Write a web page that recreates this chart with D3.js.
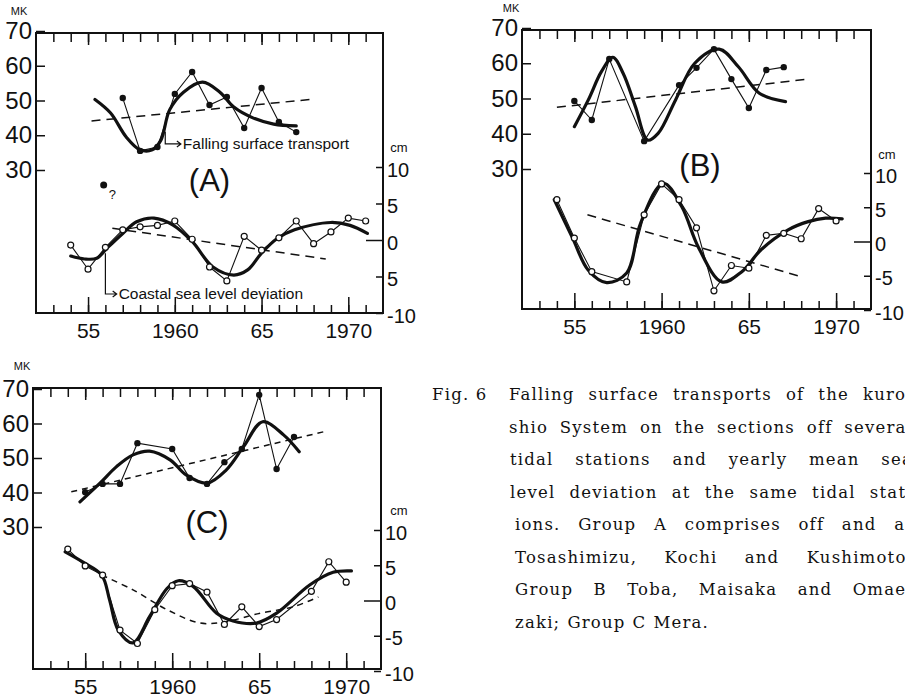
<!DOCTYPE html>
<html><head><meta charset="utf-8">
<script src="https://cdn.jsdelivr.net/npm/d3@7"></script>
<style>
html,body{margin:0;padding:0;background:#fff;overflow:hidden}
svg{display:block;background:#fff}
</style></head><body>
<svg id="c" width="905" height="698"></svg>
<script>
// ---------- shared tick data ----------
const minorYears = [1953,1954,1955,1956,1957,1958,1959,1960,1961,1962,1963,1964,1965,1966,1967,1968,1969,1970,1971];
const majorYears = [1955,1960,1965,1970];
const yearLabels = ["55","1960","65","1970"];
const mkTicks = [70,60,50,40,30];
const cmTicks = [10,5,0,-5,-10];
const cmLabelsA = ["10","5","0","5","-10"];
const cmLabels = ["10","5","0","-5","-10"];

// ---------- Panel A ----------
const aMkYears = [1957,1958,1959,1960,1961,1962,1963,1964,1965,1966,1967];
const aMk = [50.7,35.5,36.6,51.9,58.2,48.7,51,42.1,53.6,43.8,40.9];
const aMkFitYears = [1955.4,1956.3,1957.2,1958.0,1958.7,1959.2,1959.7,1960.5,1961.6,1962.6,1963.4,1964.5,1965.7,1967.0];
const aMkFit = [50.3,46.4,39.5,35.8,35.8,38.6,47.3,52.4,55.3,52.4,48.1,45,43.2,42.7];
const aMkTrendYears = [1955.2,1968.0];
const aMkTrend = [44.1,50.4];
const aOddYears = [1955.9];
const aOdd = [25.7];
const aSeaYears = [1954,1955,1956,1957,1958,1959,1960,1961,1962,1963,1964,1965,1966,1967,1968,1969,1970,1971];
const aSea = [-0.7,-4,-1,1.4,1.8,2,2.6,0.1,-3.7,-5.6,0.5,-1.4,0.3,2.6,-0.5,1.1,3,2.6];
const aSeaFitYears = [1954.0,1954.8,1955.5,1956.1,1957.0,1957.8,1958.8,1959.9,1961.0,1962.2,1963.4,1964.2,1965.0,1965.9,1966.9,1969.0,1970.1,1971.1];
const aSeaFit = [-2.2,-2.6,-2.5,-1.1,0.9,2.5,3.0,2.05,-0.2,-3.7,-4.8,-4.1,-1.8,0.2,1.4,2.4,2.0,0.9];
const aSeaTrendYears = [1956.4,1968.7];
const aSeaTrend = [1.6,-2.6];

// ---------- Panel B ----------
const bMkYears = [1955,1956,1957,1959,1961,1962,1963,1964,1965,1966,1967];
const bMk = [49.3,43.9,61.2,37.9,53.8,58.7,64,55.5,47.3,58.1,58.9];
const bMkFitYears = [1955.0,1955.8,1956.55,1957.2,1957.8,1958.5,1959.2,1959.8,1960.8,1961.9,1963.3,1964.4,1965.6,1967.1];
const bMkFit = [42,49.6,57.6,61.7,57.1,47.7,38.2,40.1,49.6,60,64,59,51.5,49.1];
const bMkTrendYears = [1954.0,1968.4];
const bMkTrend = [47.5,55.5];
const bSeaYears = [1954,1955,1956,1958,1959,1960,1961,1962,1963,1964,1965,1966,1967,1968,1969,1970];
const bSea = [6.1,0.5,-4.4,-5.9,3.9,8.4,6.1,2,-7.2,-3.5,-3.9,0.9,1.2,0.4,4.8,3];
const bSeaFitYears = [1953.85,1954.9,1955.8,1956.85,1958.0,1958.8,1960.1,1961.15,1962.1,1963.45,1964.6,1965.7,1967.25,1968.4,1969.4,1970.35];
const bSeaFit = [6.1,0.5,-4.2,-6.0,-4.6,2.7,8.5,5.1,-0.8,-5.9,-4.4,-1.2,1.7,2.9,3.4,3.3];
const bSeaTrendYears = [1955.75,1967.95];
const bSeaTrend = [3.9,-5.1];

// ---------- Panel C ----------
const cMkYears = [1955,1956,1957,1958,1960,1961,1962,1963,1964,1965,1966,1967];
const cMk = [40.1,42.5,42.5,54.3,52.6,44.2,42.5,48.8,52.6,68.3,46.8,56.1];
const cMkFitYears = [1954.7,1955.85,1956.8,1957.75,1958.7,1959.9,1960.8,1962.0,1963.1,1964.1,1965.2,1966.4,1967.3];
const cMkFit = [37.3,42.7,47.5,50.9,52,49.4,45.1,42.7,46.5,53.3,60.5,56.7,51.8];
const cMkTrendYears = [1954.2,1968.7];
const cMkTrend = [40.2,57.6];
const cSeaYears = [1954,1955,1956,1957,1958,1959,1960,1961,1962,1963,1964,1965,1966,1968,1969,1970];
const cSea = [7.3,4.9,3.6,-4.2,-6.1,-1.3,2.1,2.4,1.2,-3.4,-0.9,-3.7,-2.7,1.3,5.5,2.6];
const cSeaFitYears = [1953.85,1954.9,1955.95,1956.4,1956.9,1957.75,1958.7,1959.7,1960.35,1961.2,1962.55,1963.5,1964.85,1966.0,1967.9,1969.25,1970.3];
const cSeaFit = [6.9,5.4,3.6,0.1,-4.2,-6.0,-2.3,1.7,2.8,2.0,-1.8,-2.9,-3.2,-1.8,2.2,4.0,4.2];
const cSeaTrendYears = [1955.95,1957.75,1959.7,1961.6,1963.1,1965.05,1966.95,1968.4];
const cSeaTrend = [3.6,1.5,-1.3,-3.2,-3.0,-1.8,-0.9,0.5];

// ---------- caption ----------
const captionLead = "Fig. 6";
const captionLines = [
  "Falling surface transports of the kuro-",
  "shio System on the sections off several",
  "tidal stations and yearly mean sea",
  "level deviation at the same tidal stat-",
  "ions. Group A comprises off and at",
  "Tosashimizu, Kochi and Kushimoto,",
  "Group B Toba, Maisaka and Omae-",
  "zaki; Group C Mera."
];

const NUMFONT = '"Liberation Sans",Arial,Helvetica,sans-serif';
const svg = d3.select("#c");

const panels = [
 {name:"(A)", l:36, r:383, t:33, b:313, mk:[170,31], cm:[313,167], cmLabels:cmLabelsA,
  letter:[1962,191], mkLab:[19,12], cmLab:[399,149],
  mkY:aMkYears, mkV:aMk, mkFY:aMkFitYears, mkF:aMkFit, mkTY:aMkTrendYears, mkT:aMkTrend,
  sY:aSeaYears, sV:aSea, sFY:aSeaFitYears, sF:aSeaFit, sTY:aSeaTrendYears, sT:aSeaTrend, dash:"9,6", sdash:"9,6"},
 {name:"(B)", l:522, r:871, t:30, b:309, mk:[169,28], cm:[310,173], cmLabels:cmLabels,
  letter:[1962.2,176], mkLab:[511,9], cmLab:[887,156],
  mkY:bMkYears, mkV:bMk, mkFY:bMkFitYears, mkF:bMkFit, mkTY:bMkTrendYears, mkT:bMkTrend,
  sY:bSeaYears, sV:bSea, sFY:bSeaFitYears, sF:bSeaFit, sTY:bSeaTrendYears, sT:bSeaTrend, dash:"9,6", sdash:"9,6"},
 {name:"(C)", l:33, r:381, t:388, b:669, mk:[527,389], cm:[671,530], cmLabels:cmLabels,
  letter:[1962,533], mkLab:[22,367], cmLab:[399,512],
  mkY:cMkYears, mkV:cMk, mkFY:cMkFitYears, mkF:cMkFit, mkTY:cMkTrendYears, mkT:cMkTrend,
  sY:cSeaYears, sV:cSea, sFY:cSeaFitYears, sF:cSeaFit, sTY:cSeaTrendYears, sT:cSeaTrend, dash:"6,5", sdash:"6,5"}
];

function styleAxis(g, size){
  g.select(".domain").remove();
  g.attr("font-family", NUMFONT).attr("font-size", size);
  g.selectAll("line").attr("stroke","#111").attr("stroke-width",1.5);
  g.selectAll("text").attr("fill","#111");
}

panels.forEach(p => {
  const g = svg.append("g");
  const x = d3.scaleLinear().domain([1952,1972]).range([p.l,p.r]);
  const yMk = d3.scaleLinear().domain([30,70]).range(p.mk);
  const yCm = d3.scaleLinear().domain([-10,10]).range(p.cm);

  // ticks
  g.append("g").attr("transform",`translate(0,${p.b})`)
    .call(d3.axisBottom(x).tickValues(minorYears).tickSize(-8).tickFormat(""))
    .call(a=>styleAxis(a,20));
  g.append("g").attr("transform",`translate(0,${p.b})`)
    .call(d3.axisBottom(x).tickValues(majorYears).tickSize(-16).tickPadding(10).tickFormat((d,i)=>yearLabels[i]))
    .call(a=>styleAxis(a,21));
  g.append("g").attr("transform",`translate(0,${p.t})`)
    .call(d3.axisTop(x).tickValues(minorYears).tickSize(-9).tickFormat(""))
    .call(a=>styleAxis(a,20));
  g.append("g").attr("transform",`translate(0,${p.t})`)
    .call(d3.axisTop(x).tickValues(majorYears).tickSize(-12).tickFormat(""))
    .call(a=>styleAxis(a,20));
  g.append("g").attr("transform",`translate(${p.l},0)`)
    .call(d3.axisLeft(yMk).tickValues(mkTicks).tickSize(-9).tickPadding(4))
    .call(a=>styleAxis(a,24));
  const ra = g.append("g").attr("transform",`translate(${p.r},0)`)
    .call(d3.axisRight(yCm).tickValues(cmTicks).tickSize(-7).tickPadding(4).tickFormat((d,i)=>p.cmLabels[i]))
    .call(a=>styleAxis(a,20));
  ra.selectAll(".tick").filter(d=>d===0).select("line").attr("x2",-17);
  ra.selectAll(".tick text").attr("dy","0.45em");

  // frame
  g.append("rect").attr("x",p.l).attr("y",p.t).attr("width",p.r-p.l).attr("height",p.b-p.t)
    .attr("fill","none").attr("stroke","#111").attr("stroke-width",2);

  // unit labels
  g.append("text").attr("x",p.mkLab[0]).attr("y",p.mkLab[1]).attr("text-anchor","middle")
    .attr("dominant-baseline","middle").attr("font-family",NUMFONT).attr("font-size",11).attr("fill","#111").text("MK");
  g.append("text").attr("x",p.cmLab[0]).attr("y",p.cmLab[1]).attr("text-anchor","middle")
    .attr("dominant-baseline","middle").attr("font-family",NUMFONT).attr("font-size",13).attr("fill","#111").text("cm");
  g.append("text").attr("x",x(p.letter[0])).attr("y",p.letter[1]).attr("text-anchor","middle")
    .attr("font-family",NUMFONT).attr("font-size",31).attr("fill","#111").text(p.name);

  const lineMk = d3.line().x(d=>x(d[0])).y(d=>yMk(d[1]));
  const lineCm = d3.line().x(d=>x(d[0])).y(d=>yCm(d[1]));
  const smoothMk = d3.line().x(d=>x(d[0])).y(d=>yMk(d[1])).curve(d3.curveCatmullRom.alpha(0.5));
  const smoothCm = d3.line().x(d=>x(d[0])).y(d=>yCm(d[1])).curve(d3.curveCatmullRom.alpha(0.5));

  // trends
  g.append("path").attr("d",lineMk(d3.zip(p.mkTY,p.mkT))).attr("fill","none")
    .attr("stroke","#111").attr("stroke-width",1.5).attr("stroke-dasharray",p.dash);
  g.append("path").attr("d",smoothCm(d3.zip(p.sTY,p.sT))).attr("fill","none")
    .attr("stroke","#111").attr("stroke-width",1.5).attr("stroke-dasharray",p.sdash);
  // smooth fits
  g.append("path").attr("d",smoothMk(d3.zip(p.mkFY,p.mkF))).attr("fill","none")
    .attr("stroke","#111").attr("stroke-width",3.2).attr("stroke-linecap","round");
  g.append("path").attr("d",smoothCm(d3.zip(p.sFY,p.sF))).attr("fill","none")
    .attr("stroke","#111").attr("stroke-width",3.2).attr("stroke-linecap","round");
  // thin data lines
  g.append("path").attr("d",lineMk(d3.zip(p.mkY,p.mkV))).attr("fill","none").attr("stroke","#111").attr("stroke-width",1.1);
  g.append("path").attr("d",lineCm(d3.zip(p.sY,p.sV))).attr("fill","none").attr("stroke","#111").attr("stroke-width",1.1);
  // markers
  g.selectAll(null).data(d3.zip(p.mkY,p.mkV)).join("circle")
    .attr("cx",d=>x(d[0])).attr("cy",d=>yMk(d[1])).attr("r",3.2).attr("fill","#111");
  g.selectAll(null).data(d3.zip(p.sY,p.sV)).join("circle")
    .attr("cx",d=>x(d[0])).attr("cy",d=>yCm(d[1])).attr("r",3).attr("fill","#fff").attr("stroke","#111").attr("stroke-width",1.2);

  p.x = x; p.yMk = yMk; p.yCm = yCm; p.g = g;
});

// Panel A extras: odd point and annotations
(function(){
  const p = panels[0], g = p.g, x = p.x, yMk = p.yMk, yCm = p.yCm;
  g.selectAll(null).data(d3.zip(aOddYears,aOdd)).join("circle")
    .attr("cx",d=>x(d[0])).attr("cy",d=>yMk(d[1])).attr("r",3.5).attr("fill","#111");
  g.append("text").attr("x",x(aOddYears[0])+5).attr("y",yMk(aOdd[0])+14)
    .attr("font-family",NUMFONT).attr("font-size",13).attr("fill","#111").text("?");
  const fx = x(1959.45), fy1 = yMk(41), fy2 = yMk(37.5), fx2 = x(1960.35);
  g.append("path").attr("d",`M${fx},${fy1}V${fy2}H${fx2}M${fx2-4},${fy2-3}L${fx2},${fy2}L${fx2-4},${fy2+3}`)
    .attr("fill","none").attr("stroke","#111").attr("stroke-width",1.2);
  g.append("text").attr("x",fx2+2).attr("y",fy2+5).attr("font-family",NUMFONT).attr("font-size",15.5).attr("fill","#111")
    .text("Falling surface transport");
  const cx = x(1956), cy1 = yCm(-1.8), cy2 = yCm(-7.4), cx2 = x(1956.65);
  g.append("path").attr("d",`M${cx},${cy1}V${cy2}H${cx2}M${cx2-4},${cy2-3}L${cx2},${cy2}L${cx2-4},${cy2+3}`)
    .attr("fill","none").attr("stroke","#111").attr("stroke-width",1.2);
  g.append("text").attr("x",cx2+2).attr("y",cy2+5).attr("font-family",NUMFONT).attr("font-size",15.5).attr("fill","#111")
    .text("Coastal sea level deviation");
})();

// caption (justified, clipped at the right edge like the reference)
(function(){
  const cap = svg.append("g").attr("font-family",'"DejaVu Serif","Liberation Serif",serif')
    .attr("font-size",16.5).attr("letter-spacing","1.2px").attr("fill","#111");
  cap.append("text").attr("x",432).attr("y",400).text(captionLead);
  const startX = [509,509,510,510,515,515,515,515];
  const baseY = [400,432.5,465,497.5,530,562.5,595,627.5];
  const right = 913;
  captionLines.forEach((line,i)=>{
    const words = line.split(" ");
    const ts = words.map(w=>cap.append("text").attr("y",baseY[i]).text(w));
    const widths = ts.map(t=>t.node().getComputedTextLength());
    const sum = d3.sum(widths);
    let gap = (right - startX[i] - sum)/(words.length-1);
    if (i === captionLines.length-1) gap = 7;
    let cx = startX[i];
    ts.forEach((t,k)=>{ t.attr("x",cx); cx += widths[k] + gap; });
  });
})();
</script>
</body></html>
